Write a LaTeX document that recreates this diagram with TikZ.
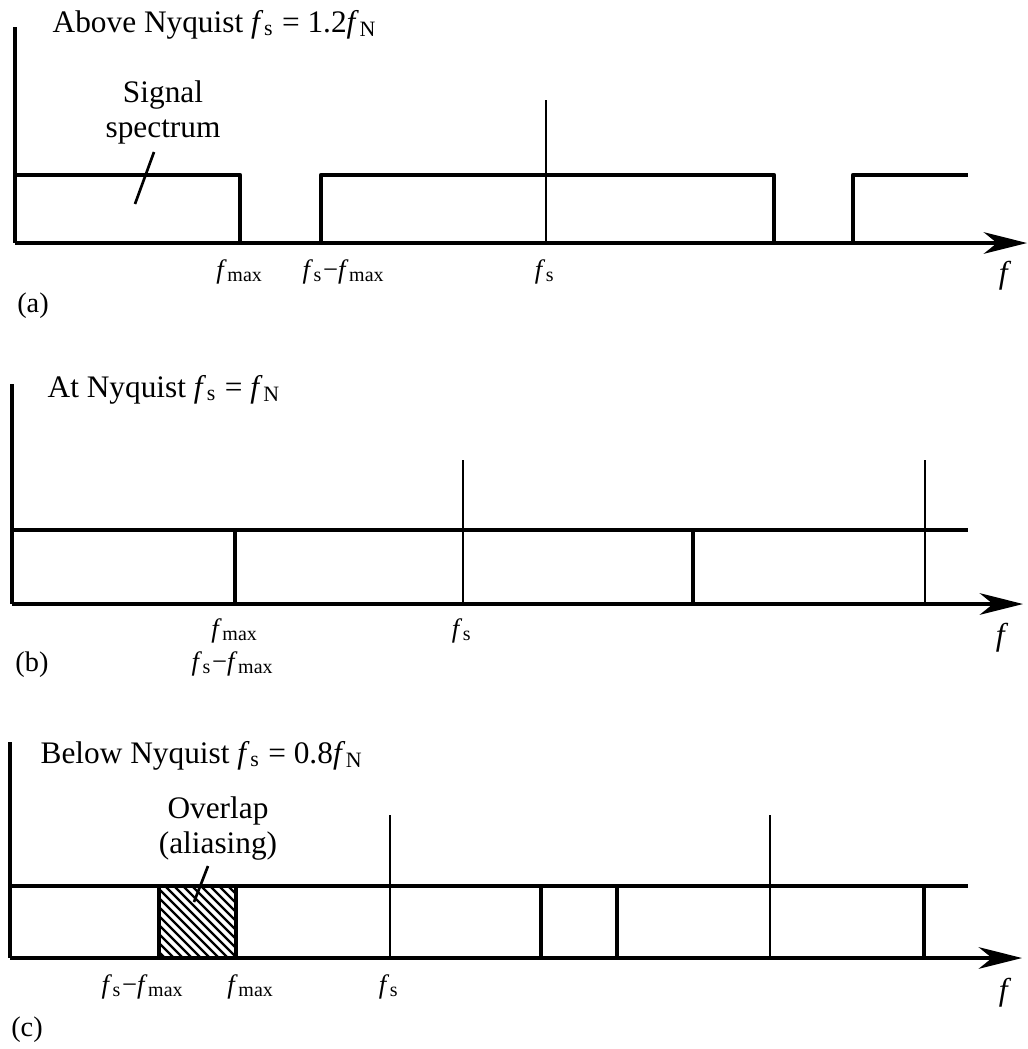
\documentclass[tikz,border=0pt]{standalone}
\usepackage{fontspec}
\setmainfont{Liberation Serif}
\usetikzlibrary{arrows.meta}
\newcommand{\fv}[1]{\textit{f}\kern0.02em\textsubscript{#1}}
\begin{document}
\begin{tikzpicture}[x=0.3pt,y=-0.3pt,
  spec/.style={line width=1.4pt, line join=round},
  topline/.style={line width=1.25pt},
  bar/.style={line width=1.0pt},
  samp/.style={line width=0.8pt},
  axis/.style={line width=0.95pt},
  farrow/.style={line width=0.95pt,-{Stealth[length=13pt,width=6.5pt,inset=4pt]}},
  ttl/.style={font=\fontsize{9.4}{11}\selectfont, anchor=base west, inner sep=0},
  lbl/.style={font=\fontsize{8}{9}\selectfont, anchor=base, inner sep=0},
  flbl/.style={font=\fontsize{9.5}{10}\selectfont, inner sep=0},
  note/.style={font=\fontsize{9.4}{10.5}\selectfont, align=center, inner sep=0},
  tag/.style={font=\fontsize{8.5}{10}\selectfont, inner sep=0}
]
\useasboundingbox (0,0) rectangle (1028,1049);

% ---------- (a) ----------
\coordinate (aT) at (15,27);
\coordinate (aO) at (15,243);
\coordinate (aE) at (1027,243);
\draw[axis] (aT) -- (aO);
\draw[farrow] (aO) -- (aE);
\draw[spec] (15,175) -- (240,175) -- (240,243);
\draw[spec] (321,243) -- (321,175) -- (774,175) -- (774,243);
\draw[spec] (853,243) -- (853,175) -- (968,175);
\draw[samp] (546,100) -- (546,243);
\node[ttl] (ta) at (52,32) {Above Nyquist \fv{s} = 1.2\fv{N}};
\node[note] (sig) at (163,112) {Signal\\spectrum};
\coordinate (sigP) at (135,204);
\draw[samp] (154,152) -- (sigP);
\node[lbl] (la1) at (240,278) {\fv{max}};
\node[lbl] (la2) at (344,278) {\fv{s}−\fv{max}};
\node[lbl] (la3) at (545,278) {\fv{s}};
\node[flbl] (la4) at (1005,276) {\textit{f}};
\node[tag] (tagA) at (33,306) {(a)};

% ---------- (b) ----------
\coordinate (bT) at (12,384);
\coordinate (bO) at (12,604);
\coordinate (bE) at (1023,604);
\draw[axis] (bT) -- (bO);
\draw[farrow] (bO) -- (bE);
\draw[topline] (12,530) -- (968,530);
\draw[bar] (235,530) -- (235,604);
\draw[bar] (693,530) -- (693,604);
\draw[samp] (463,460) -- (463,604);
\draw[samp] (925,460) -- (925,604);
\node[ttl] (tb) at (47,397) {At Nyquist \fv{s} = \fv{N}};
\node[lbl] (lb1) at (235,637) {\fv{max}};
\node[lbl] (lb2) at (233,670) {\fv{s}−\fv{max}};
\node[lbl] (lb3) at (462,637) {\fv{s}};
\node[flbl] (lb4) at (1002,638) {\textit{f}};
\node[tag] (tagB) at (32,665) {(b)};

% ---------- (c) ----------
\coordinate (cT) at (10,742);
\coordinate (cO) at (10,958);
\coordinate (cE) at (1022,958);
\draw[axis] (cT) -- (cO);
\draw[farrow] (cO) -- (cE);
\draw[topline] (10,886) -- (968,886);
\begin{scope}
  \clip (159,886) rectangle (236,958);
  \foreach \x in {84,93,...,240} \draw[line width=0.7pt] (\x,886) -- ++(72,72);
\end{scope}
\draw[bar, line width=1.15pt] (159,886) rectangle (236,958);
\draw[bar] (541,886) -- (541,958);
\draw[bar] (617,886) -- (617,958);
\draw[bar] (924,886) -- (924,958);
\draw[samp] (390,815) -- (390,958);
\draw[samp] (770,815) -- (770,958);
\node[ttl] (tc) at (40,763) {Below Nyquist \fv{s} = 0.8\fv{N}};
\node[note] (ovl) at (218,828) {Overlap\\(aliasing)};
\coordinate (ovlP) at (194,902);
\draw[samp] (208,866) -- (ovlP);
\node[lbl] (lc1) at (143,993) {\fv{s}−\fv{max}};
\node[lbl] (lc2) at (251,993) {\fv{max}};
\node[lbl] (lc3) at (389,993) {\fv{s}};
\node[flbl] (lc4) at (1005,993) {\textit{f}};
\node[tag] (tagC) at (27,1030) {(c)};
\end{tikzpicture}
\end{document}
